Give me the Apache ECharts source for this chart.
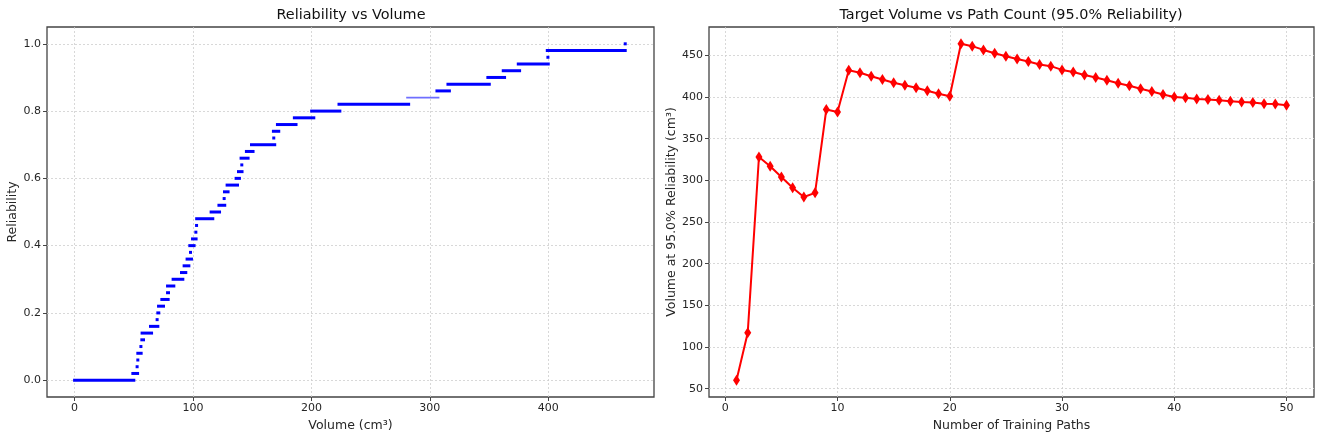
<!DOCTYPE html>
<html>
<head>
<meta charset="utf-8">
<script src="https://cdn.jsdelivr.net/npm/echarts@6/dist/echarts.min.js"></script>
<style>
html,body{margin:0;padding:0;background:#fff;}
#chart{width:1325px;height:440px;}
</style>
</head>
<body>
<div id="chart"></div>
<script>
// ---- Left panel: reliability steps (level, start volume, end volume) ----
const stepLevels = [0.00,0.02,0.04,0.06,0.08,0.10,0.12,0.14,0.16,0.18,0.20,0.22,0.24,0.26,0.28,0.30,0.32,0.34,0.36,0.38,0.40,0.42,0.44,0.46,0.48,0.50,0.52,0.54,0.56,0.58,0.60,0.62,0.64,0.66,0.68,0.70,0.72,0.74,0.76,0.78,0.80,0.82,0.84,0.86,0.88,0.90,0.92,0.94,0.96,0.98,1.00];
const stepStart  = [0,49.2,52.8,53.4,53.4,56.0,56.8,57.0,64.1,69.7,70.3,70.9,73.7,78.5,78.5,83.2,90.3,92.5,95.0,97.9,97.3,99.6,102.4,103.0,103.1,115.3,121.9,126.3,126.6,128.8,136.4,138.4,141.2,140.6,145.1,149.4,168.2,167.9,171.3,185.6,200.2,223.3,281.3,306.0,315.3,349.0,362.0,374.7,399.7,399.2,465.0];
const stepEnd    = [50.0,53.2,52.8,53.4,56.2,56.0,58.2,65.0,70.3,69.7,71.1,75.1,79.0,79.3,83.8,91.4,93.9,96.5,98.7,97.9,100.9,102.6,102.4,103.0,116.7,122.4,126.8,126.3,129.6,137.6,139.2,141.4,141.2,146.5,150.7,169.0,168.2,172.4,187.0,202.0,224.0,282.1,306.8,316.5,350.2,363.1,375.8,400.0,399.7,465.0,465.0];
const sparseLevels = [0.84];
const leftXTicks = [0,100,200,300,400];
const leftYTicks = [0,0.2,0.4,0.6,0.8,1.0];

// ---- Right panel: target volume vs path count ----
const pathCounts = [1,2,3,4,5,6,7,8,9,10,11,12,13,14,15,16,17,18,19,20,21,22,23,24,25,26,27,28,29,30,31,32,33,34,35,36,37,38,39,40,41,42,43,44,45,46,47,48,49,50];
const targetVolumes = [60,117,328,317,304,291,280,285,385,382,432,429,425,421,417,414,411,407.5,404,401,464,461,456.5,452.5,449,445.5,442.5,439,437,432.5,430,426.5,423.5,420,416.5,413.5,410,406.5,403,400,399,397.5,397,396,395,394,393.5,392,391.5,390];
const rightXTicks = [0,10,20,30,40,50];
const rightYTicks = [50,100,150,200,250,300,350,400,450];

const stepData = stepLevels.map((lv, i) => [stepStart[i], stepEnd[i], lv]);

const chart = echarts.init(document.getElementById('chart'), null, {renderer: 'canvas'});
const FONT = 'DejaVu Sans';
const textColor = '#262626';
const gridLine = {show: true, lineStyle: {color: '#cfcfcf', width: 0.8, type: [2, 2]}};

function axisCommon(ticks, fmt) {
  return {
    axisLine: {show: false, onZero: false},
    axisTick: {show: true, inside: false, length: 4, lineStyle: {color: '#444'}, customValues: ticks},
    axisLabel: {show: true, color: textColor, fontFamily: FONT, fontSize: 11, margin: 6, customValues: ticks, formatter: fmt},
    splitLine: Object.assign({customValues: ticks}, gridLine),
    nameTextStyle: {color: textColor, fontFamily: FONT, fontSize: 12.5},
    nameLocation: 'middle'
  };
}

const option = {
  backgroundColor: '#fff',
  animation: false,
  graphic: [
    {type: 'text', x: 351, y: 15, style: {text: 'Reliability vs Volume', fill: '#111', font: '14.4px "DejaVu Sans"', align: 'center', verticalAlign: 'middle'}},
    {type: 'text', x: 1011, y: 15, style: {text: 'Target Volume vs Path Count (95.0% Reliability)', fill: '#111', font: '14.4px "DejaVu Sans"', align: 'center', verticalAlign: 'middle'}}
  ],
  grid: [
    {left: 47, top: 27, width: 607, height: 370, show: true, borderColor: '#444', borderWidth: 1.3, backgroundColor: 'transparent'},
    {left: 709, top: 27, width: 605, height: 370, show: true, borderColor: '#444', borderWidth: 1.3, backgroundColor: 'transparent'}
  ],
  xAxis: [
    Object.assign(axisCommon(leftXTicks, v => String(v)), {type: 'value', gridIndex: 0, min: -23.3, max: 489.3, name: 'Volume (cm³)', nameGap: 22}),
    Object.assign(axisCommon(rightXTicks, v => String(v)), {type: 'value', gridIndex: 1, min: -1.45, max: 52.45, name: 'Number of Training Paths', nameGap: 22})
  ],
  yAxis: [
    Object.assign(axisCommon(leftYTicks, v => v.toFixed(1)), {type: 'value', gridIndex: 0, min: -0.05, max: 1.05, name: 'Reliability', nameGap: 26}),
    Object.assign(axisCommon(rightYTicks, v => String(v)), {type: 'value', gridIndex: 1, min: 40, max: 484, name: 'Volume at 95.0% Reliability (cm³)', nameGap: 28})
  ],
  series: [
    {
      type: 'custom',
      xAxisIndex: 0, yAxisIndex: 0,
      data: stepData,
      clip: true,
      renderItem: function (params, api) {
        const s = api.coord([api.value(0), api.value(2)]);
        const e = api.coord([api.value(1), api.value(2)]);
        const sparse = sparseLevels.indexOf(api.value(2)) >= 0;
        const h = sparse ? 1.6 : 3;
        return {
          type: 'rect',
          shape: {x: s[0] - 1.5, y: s[1] - h / 2, width: Math.max(3, e[0] - s[0] + 3), height: h},
          style: {fill: sparse ? '#6f6fff' : '#0000ff'}
        };
      }
    },
    {
      type: 'line',
      xAxisIndex: 1, yAxisIndex: 1,
      data: pathCounts.map((p, i) => [p, targetVolumes[i]]),
      lineStyle: {color: '#ff0000', width: 2},
      itemStyle: {color: '#ff0000'},
      symbol: 'diamond',
      symbolSize: [7, 11],
      showSymbol: true
    }
  ]
};
chart.setOption(option);
</script>
</body>
</html>
